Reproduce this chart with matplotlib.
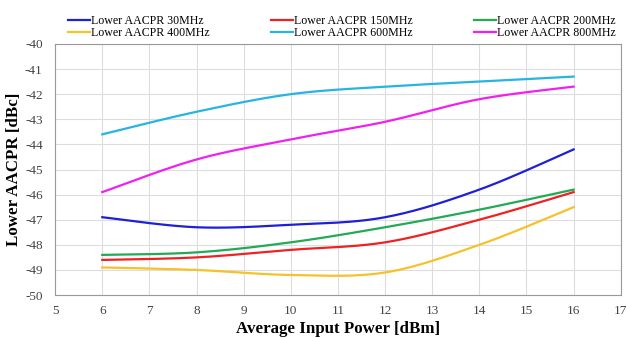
import numpy as np
import matplotlib
matplotlib.use("Agg")
import matplotlib.pyplot as plt

x = [6, 8, 10, 12, 14, 16]
s30 = [-46.9, -47.3, -47.2, -46.9, -45.8, -44.2]
s150 = [-48.6, -48.5, -48.2, -47.9, -47.0, -45.9]
s200 = [-48.4, -48.3, -47.9, -47.3, -46.6, -45.8]
s400 = [-48.9, -49.0, -49.2, -49.1, -48.0, -46.5]
s600 = [-43.6, -42.7, -42.0, -41.7, -41.5, -41.3]
s800 = [-45.9, -44.6, -43.8, -43.1, -42.2, -41.7]

labels = ["Lower AACPR 30MHz", "Lower AACPR 150MHz", "Lower AACPR 200MHz",
          "Lower AACPR 400MHz", "Lower AACPR 600MHz", "Lower AACPR 800MHz"]
colors = ["#1f1fd8", "#ee2222", "#22aa55", "#f5c22a", "#26b5e2", "#f020f0"]
series = [s30, s150, s200, s400, s600, s800]


def smooth(xs, ys, n=30):
    xs = np.asarray(xs, float); ys = np.asarray(ys, float)
    P = np.column_stack([xs, ys])
    out = []
    for i in range(len(P) - 1):
        p0 = P[i - 1] if i > 0 else P[i]
        p1 = P[i]; p2 = P[i + 1]
        p3 = P[i + 2] if i + 2 < len(P) else P[i + 1]
        c1 = p1 + (p2 - p0) / 6.0
        c2 = p2 - (p3 - p1) / 6.0
        t = np.linspace(0, 1, n)[:, None]
        seg = (1 - t) ** 3 * p1 + 3 * (1 - t) ** 2 * t * c1 + 3 * (1 - t) * t ** 2 * c2 + t ** 3 * p2
        out.append(seg if i == 0 else seg[1:])
    out = np.vstack(out)
    return out[:, 0], out[:, 1]


plt.rcParams['font.family'] = ['Liberation Serif', 'DejaVu Serif']
plt.rcParams['axes.unicode_minus'] = False
fig = plt.figure(figsize=(6.27, 3.38), dpi=100)
ax = fig.add_axes([0.088, 0.127, 0.902, 0.743])

order = [0, 3, 1, 4, 2, 5]
handles = {}
for i, (ys, c, lab) in enumerate(zip(series, colors, labels)):
    sx, sy = smooth(x, ys)
    h, = ax.plot(sx, sy, color=c, lw=1.6, label=lab)
    handles[i] = h

ax.set_xlim(5, 17)
ax.set_ylim(-50, -40)
ax.set_xticks(range(5, 18))
ax.set_yticks(range(-50, -39))
ax.grid(True, color="#dddddd", lw=0.8)
for sp in ax.spines.values():
    sp.set_color("#999999")
ax.tick_params(length=0, labelsize=9.5, colors="#444444")
ax.tick_params(axis="x", pad=7)
ax.tick_params(axis="y", pad=9)
ax.set_xlabel("Average Input Power [dBm]", fontsize=12.2, fontweight="bold")
ax.set_ylabel("Lower AACPR [dBc]", fontsize=12.2, fontweight="bold")
ax.xaxis.set_label_coords(0.5, -0.104)
ax.yaxis.set_label_coords(-0.058, 0.5)

leg = fig.legend([handles[i] for i in order], [labels[i] for i in order],
                 loc="upper left", bbox_to_anchor=(0.1085, 0.956), ncol=3,
                 frameon=False, fontsize=8.6, handlelength=1.85, handletextpad=0.1,
                 columnspacing=5.1, labelspacing=0.0, borderaxespad=0, borderpad=0)

fig.savefig("out.png", dpi=100)
